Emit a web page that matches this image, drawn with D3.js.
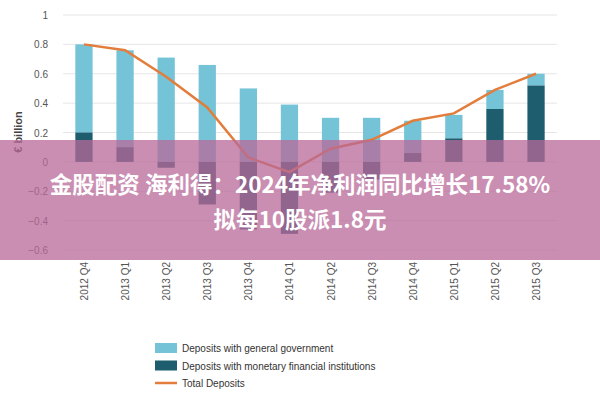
<!DOCTYPE html><html><head><meta charset="utf-8"><script src="https://cdn.jsdelivr.net/npm/d3@7"></script>
<style>body{margin:0;background:#fff}</style></head><body><svg id="c" width="600" height="400"></svg>
<script>
const categories=["2012 Q4","2013 Q1","2013 Q2","2013 Q3","2013 Q4","2014 Q1","2014 Q2","2014 Q3","2014 Q4","2015 Q1","2015 Q2","2015 Q3"];
const govValues=[0.6,0.66,0.71,0.66,0.5,0.39,0.3,0.3,0.22,0.16,0.13,0.08];
const mfiValues=[0.2,0.1,-0.04,-0.29,-0.46,-0.49,-0.21,-0.12,0.06,0.16,0.36,0.52];
const totalValues=[0.8,0.76,0.58,0.37,0.03,-0.07,0.09,0.15,0.28,0.33,0.49,0.6];
const yTicks=[1,0.8,0.6,0.4,0.2,0,-0.2,-0.4,-0.6];
const legendLabels=["Deposits with general government","Deposits with monetary financial institutions","Total Deposits"];
const titleLines=["金股配资 海利得：2024年净利润同比增长17.58%","拟每10股派1.8元"];
const cLight="#74c3d7",cDark="#1d5d6e",cLine="#e27d3c";
const svg=d3.select("#c");
const x=d3.scaleBand().domain(categories).range([63,557]).paddingInner(0.58).paddingOuter(0.3);
const y=d3.scaleLinear().domain([-0.6,1]).range([250,15]);
const g=svg.append("g");
g.selectAll(".grid").data(yTicks).join("line").attr("x1",63).attr("x2",557).attr("y1",d=>y(d)).attr("y2",d=>y(d)).attr("stroke","#e6e6e6");
g.selectAll(".yl").data(yTicks).join("text").attr("x",48).attr("y",d=>y(d)+4).attr("text-anchor","end").attr("font-family","Liberation Sans").attr("font-size",10).attr("fill","#555").text(d=>d===1?"1":d===0?"0":d3.format(".1f")(d));
categories.forEach((c,i)=>{
 const m=mfiValues[i],gv=govValues[i];
 const base=m>0?m:0;
 g.append("rect").attr("x",x(c)).attr("width",x.bandwidth()).attr("y",y(base+gv)).attr("height",y(base)-y(base+gv)).attr("fill",cLight);
 g.append("rect").attr("x",x(c)).attr("width",x.bandwidth()).attr("y",y(Math.max(m,0))).attr("height",Math.abs(y(m)-y(0))).attr("fill",cDark);
});
g.append("path").datum(totalValues).attr("fill","none").attr("stroke",cLine).attr("stroke-width",2.5)
 .attr("d",d3.line().x((d,i)=>x(categories[i])+x.bandwidth()/2).y(d=>y(d)));
g.selectAll(".xl").data(categories).join("text").attr("transform",d=>`translate(${x(d)+x.bandwidth()/2+4},262) rotate(-90)`).attr("text-anchor","end").attr("font-family","Liberation Sans").attr("font-size",10).attr("fill","#555").text(d=>d);
g.append("text").attr("transform","translate(22,132) rotate(-90)").attr("text-anchor","middle").attr("font-family","Liberation Sans").attr("font-weight","bold").attr("font-size",11).attr("fill","#444").text("€ billion");
legendLabels.forEach((l,i)=>{
 const ly=348+i*17.5;
 if(i<2) g.append("rect").attr("x",155).attr("y",ly-5).attr("width",22).attr("height",10).attr("fill",i?cDark:cLight);
 else g.append("line").attr("x1",155).attr("x2",177).attr("y1",ly).attr("y2",ly).attr("stroke",cLine).attr("stroke-width",2.5);
 g.append("text").attr("x",182).attr("y",ly+4).attr("font-family","Liberation Sans").attr("font-size",10).attr("fill","#333").text(l);
});
svg.append("rect").attr("x",0).attr("y",140).attr("width",600).attr("height",120).attr("fill","rgb(184,104,152)").attr("opacity",0.75);
titleLines.forEach((t,i)=>svg.append("text").attr("x",300).attr("y",193+i*35).attr("text-anchor","middle").attr("font-family","Noto Sans CJK SC").attr("font-weight","bold").attr("font-size",22.5).attr("fill","#fff").text(t));
</script></body></html>
